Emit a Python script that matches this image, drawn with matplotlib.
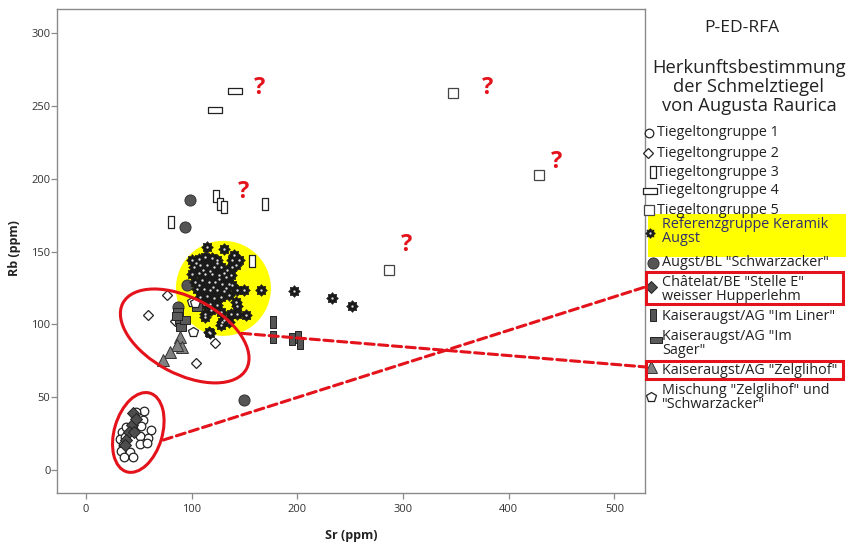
import numpy as np
import matplotlib
matplotlib.use("Agg")
import matplotlib.pyplot as plt
from matplotlib.path import Path
from matplotlib.patches import Ellipse, Rectangle, ConnectionPatch
from matplotlib.lines import Line2D
from matplotlib.transforms import ScaledTranslation

plt.rcParams["font.family"] = ["Open Sans", "DejaVu Sans"]

# --- data (Sr, Rb in ppm) ---
g1_sr = [55.1, 47.2, 54.2, 51.7, 61.2, 59.0, 51.0, 51.0, 58.0, 33.9, 32.0, 35.1, 32.9, 41.5, 36.1, 44.1, 38.3, 36.7]
g1_rb = [40.4, 39.7, 34.6, 30.0, 27.5, 21.8, 23.6, 17.9, 18.6, 25.9, 21.3, 17.2, 13.3, 12.6, 8.7, 8.7, 29.4, 22.5]

g2_sr = [76.3, 58.9, 84.2, 122.0, 104.1]
g2_rb = [120.2, 106.5, 102.6, 87.0, 73.3]

g3_sr = [123.0, 126.8, 130.6, 169.3, 157.3, 80.1]
g3_rb = [188.2, 182.7, 180.5, 182.5, 143.6, 170.2]

g4_sr = [141.0, 122.0]
g4_rb = [260.6, 247.3]

g5_sr = [347.5, 428.6, 286.7]
g5_rb = [259.2, 202.7, 137.4]

ref_sr = [114.6, 130.5, 100.3, 106.7, 113.0, 119.4, 124.1, 140.0, 144.8, 138.4, 141.6, 138.4,
          101.9, 108.3, 114.6, 121.0, 127.3, 133.7,
          100.3, 106.7, 113.0, 119.4, 125.7, 132.1, 136.8,
          103.5, 109.8, 116.2, 122.5, 128.9, 135.2, 138.4,
          105.1, 111.4, 117.8, 124.1, 130.5, 143.2, 149.5, 165.4,
          108.3, 114.6, 121.0, 127.3, 135.2,
          111.4, 117.8, 124.1, 141.6, 143.2,
          113.0, 127.3, 136.8, 143.2, 151.1,
          113.0, 130.5, 127.3, 116.2, 135.2, 117.3, 128.4,
          104.0, 110.5, 117.0, 123.5, 131.0, 107.0, 120.0, 126.0, 132.5, 118.5,
          196.8, 232.7, 251.7]
ref_rb = [153.2, 152.1, 144.1, 145.2, 146.4, 145.9, 144.1, 147.5, 144.5, 144.1, 140.6, 139.5,
          139.5, 140.6, 140.6, 139.5, 139.5, 137.2,
          134.9, 135.4, 134.9, 134.9, 133.7, 132.6, 133.7,
          129.2, 130.3, 129.2, 129.2, 128.0, 128.0, 126.9,
          124.6, 124.6, 123.9, 123.4, 123.0, 123.9, 123.9, 123.9,
          118.8, 119.3, 118.4, 118.8, 120.0,
          114.2, 113.8, 113.1, 115.4, 112.4,
          107.4, 108.5, 107.4, 107.4, 106.2,
          105.1, 102.8, 99.3, 94.7, 101.6, 93.9, 101.9,
          142.0, 137.5, 137.0, 142.5, 135.5, 127.0, 126.0, 131.0, 125.0, 110.0,
          123.0, 118.2, 112.7]

schw_sr = [98.4, 93.7, 149.5, 95.3, 87.3]
schw_rb = [185.5, 167.2, 48.1, 127.1, 112.2]

chat_sr = [44.1, 43.1, 40.9, 38.3, 36.7, 47.2, 45.3]
chat_rb = [39.0, 31.0, 25.9, 20.9, 17.2, 35.1, 26.4]

liner_sr = [176.9, 176.9, 194.9, 200.6, 202.5]
liner_rb = [101.7, 91.4, 90.0, 91.4, 87.2]

sager_sr = [87.3, 88.9, 89.6, 93.7, 104.7, 86.5]
sager_rb = [108.7, 103.0, 98.4, 103.0, 112.2, 105.5]

zelg_sr = [88.9, 90.5, 85.8, 79.5, 73.1]
zelg_rb = [91.2, 84.7, 85.9, 81.3, 75.6]

misch_sr = [101.5, 100.0, 103.1]
misch_rb = [95.0, 115.6, 114.5]

# question marks next to doubtful points
quest_sr = [164.6, 380.3, 445.3, 148.8, 303.4]
quest_rb = [262.4, 262.4, 211.8, 191.2, 154.6]

x_ticks = [0, 100, 200, 300, 400, 500]
y_ticks = [0, 50, 100, 150, 200, 250, 300]

legend_labels = [
    "Tiegeltongruppe 1",
    "Tiegeltongruppe 2",
    "Tiegeltongruppe 3",
    "Tiegeltongruppe 4",
    "Tiegeltongruppe 5",
    "Referenzgruppe Keramik\nAugst",
    'Augst/BL "Schwarzacker"',
    'Châtelat/BE "Stelle E"\nweisser Hupperlehm',
    'Kaiseraugst/AG "Im Liner"',
    'Kaiseraugst/AG "Im\nSager"',
    'Kaiseraugst/AG "Zelglihof"',
    'Mischung "Zelglihof" und\n"Schwarzacker"',
]

# --- marker shapes ---
def rect_path(w, h):
    return Path([(-w, -h), (w, -h), (w, h), (-w, h), (-w, -h)], closed=True)

vbar = rect_path(0.5, 1.0)
hbar = rect_path(1.0, 0.5)
sager_box = rect_path(1.0, 0.8)

ang = np.arange(16) * np.pi / 8
rad = np.where(np.arange(16) % 2 == 0, 1.0, 0.72)
gv = np.column_stack([rad * np.cos(ang), rad * np.sin(ang)])
gear = Path(np.vstack([gv, gv[:1]]), closed=True)

RED = "#e3121b"
EDGE = "#222222"

styles = [
    dict(marker="o", ms=6.2, mfc="white", mec=EDGE, mew=0.9),
    dict(marker="D", ms=5.2, mfc="white", mec=EDGE, mew=0.9),
    dict(marker=vbar, ms=8.6, mfc="white", mec=EDGE, mew=0.9),
    dict(marker=hbar, ms=9.4, mfc="white", mec=EDGE, mew=0.9),
    dict(marker="s", ms=7.2, mfc="white", mec="#444444", mew=0.9),
    dict(marker=gear, ms=8.4, mfc="#1a1a1a", mec="#1a1a1a", mew=0.5),
    dict(marker="o", ms=8.0, mfc="#555555", mec="#333333", mew=0.7),
    dict(marker="D", ms=5.8, mfc="#4d4d4d", mec="#222222", mew=0.7),
    dict(marker=vbar, ms=8.0, mfc="#555555", mec="#222222", mew=0.7),
    dict(marker=sager_box, ms=7.0, mfc="#5a5a5a", mec="#222222", mew=0.7),
    dict(marker="^", ms=8.6, mfc="#808080", mec="#333333", mew=0.7),
    dict(marker="p", ms=7.0, mfc="white", mec=EDGE, mew=0.9),
]

fig = plt.figure(figsize=(8.54, 5.47), dpi=100)
ax = fig.add_axes([0.0664, 0.0987, 0.6889, 0.8848])
ax.set_xlim(-27.7, 528.9)
ax.set_ylim(-15.8, 316.7)

# yellow highlight behind the reference group
ax.add_patch(Ellipse((0, 0), 0.95, 0.95, facecolor="#ffff00", edgecolor="none", zorder=1,
                     transform=fig.dpi_scale_trans + ScaledTranslation(130.0, 124.8, ax.transData)))

series = [(g1_sr, g1_rb, 0), (g2_sr, g2_rb, 1), (g3_sr, g3_rb, 2), (g4_sr, g4_rb, 3),
          (g5_sr, g5_rb, 4), (schw_sr, schw_rb, 6), (ref_sr, ref_rb, 5),
          (chat_sr, chat_rb, 7), (liner_sr, liner_rb, 8), (sager_sr, sager_rb, 9),
          (zelg_sr, zelg_rb, 10), (misch_sr, misch_rb, 11)]
for i, (xs, ys, k) in enumerate(series):
    ax.plot(xs, ys, ls="none", zorder=3 + i * 0.1, **styles[k])
    if k == 5:
        ax.plot(xs, ys, ls="none", marker="o", ms=1.7, mfc="#dddddd", mec="none", zorder=3 + i * 0.1 + 0.05)

for sx, ry in zip(quest_sr, quest_rb):
    ax.text(sx, ry, "?", color=RED, fontsize=17, fontweight="bold", ha="center", va="center", zorder=6)

# red ellipses marking the groups
ax.add_patch(Ellipse((0, 0), 0.82, 0.48, angle=73.6, fill=False, edgecolor=RED, lw=2.2, zorder=5,
                     transform=fig.dpi_scale_trans + ScaledTranslation(49.5, 25.8, ax.transData)))
ax.add_patch(Ellipse((0, 0), 1.40, 0.76, angle=-28, fill=False, edgecolor=RED, lw=2.2, zorder=5,
                     transform=fig.dpi_scale_trans + ScaledTranslation(93.4, 92.1, ax.transData)))

for spine in ax.spines.values():
    spine.set_color("#8a8a8a")
    spine.set_linewidth(1.0)
ax.set_xticks(x_ticks)
ax.set_yticks(y_ticks)
ax.tick_params(direction="out", length=4, width=0.9, color="#8a8a8a", labelcolor="#333333",
               labelsize=8)
ax.tick_params(axis="x", pad=4)
ax.tick_params(axis="y", pad=0.5)
ax.set_xlabel("Sr (ppm)", fontsize=9, fontweight="bold", color="#222222")
ax.set_ylabel("Rb (ppm)", fontsize=9, fontweight="bold", color="#222222")
ax.xaxis.label.set_va("center")
ax.yaxis.label.set_va("center")
ax.xaxis.set_label_coords(0.5, -0.0868)
ax.yaxis.set_label_coords(-0.0709, 0.506)

# --- legend panel on the right ---
def fx(px):
    return px / 854


def fy(py):
    return 1 - py / 547


fig.text(fx(742), fy(28), "P-ED-RFA", fontsize=12.5, ha="center", va="center", color="#222222")
for txt, py in zip(["Herkunftsbestimmung", "der Schmelztiegel", "von Augusta Raurica"], [68, 87, 106]):
    fig.text(fx(749), fy(py), txt, fontsize=13.2, ha="center", va="center", color="#222222")

fig.add_artist(Rectangle((fx(648), fy(257)), fx(846) - fx(648), fy(214) - fy(257),
                         transform=fig.transFigure, facecolor="#ffff00", edgecolor="none", zorder=0))

text_y = [133, 153, 172, 191, 210, 224, 263, 282, 316, 336, 370, 390]
mark_xy = [(649, 133), (648.5, 153), (653, 172), (650, 191), (649.5, 210), (650, 233),
           (653, 263), (651.5, 287), (653, 315), (656, 340), (651.5, 367), (651.5, 397)]
for i, label in enumerate(legend_labels):
    tx = 657 if i < 5 else 662
    col = "#2e2e6e" if i == 5 else "#222222"
    for j, line in enumerate(label.split("\n")):
        fig.text(fx(tx), fy(text_y[i] + j * 15), line, fontsize=10.4, ha="left", va="center", color=col)
    mx, my = mark_xy[i]
    st = dict(styles[i])
    if i == 9:
        st["marker"] = hbar
        st["ms"] = 8.0
    if i == 5:
        st["ms"] = 7.0
    fig.add_artist(Line2D([fx(mx)], [fy(my)], transform=fig.transFigure, ls="none", **st))
    if i == 5:
        fig.add_artist(Line2D([fx(mx)], [fy(my)], transform=fig.transFigure, ls="none",
                              marker="o", ms=1.7, mfc="#dddddd", mec="none"))

# red boxes around two legend entries and dashed connectors
for y0, y1 in [(271.7, 304), (361, 378.5)]:
    fig.add_artist(Rectangle((fx(646), fy(y1)), fx(843) - fx(646), fy(y0) - fy(y1),
                             transform=fig.transFigure, fill=False, edgecolor=RED, lw=2.2, zorder=6))

for (sx, ry), (ex, ey) in [((73.1, 20.6), (646, 286.7)), ((147.3, 93.9), (646, 367))]:
    con = ConnectionPatch(xyA=(sx, ry), coordsA=ax.transData, xyB=(fx(ex), fy(ey)),
                          coordsB=fig.transFigure, color=RED, lw=2.2, linestyle=(0, (3, 1.5)),
                          zorder=6)
    fig.add_artist(con)

fig.savefig("out.png", dpi=100)
